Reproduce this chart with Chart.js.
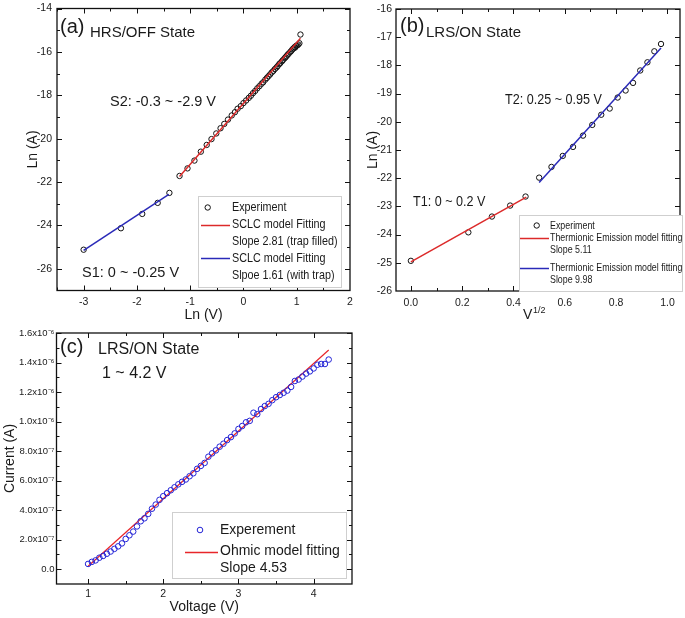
<!DOCTYPE html>
<html>
<head>
<meta charset="utf-8">
<title>HRS / LRS conduction fits</title>
<script src="https://cdn.jsdelivr.net/npm/chart.js@4.4.1/dist/chart.umd.min.js"></script>
<style>
  html, body { margin: 0; padding: 0; background: #fff; }
  #wrap { position: relative; width: 685px; height: 618px; overflow: hidden; }
  canvas { position: absolute; }
</style>
</head>
<body>
<div id="wrap">
  <canvas id="chartA" width="362" height="330" style="left:0;top:0;"></canvas>
  <canvas id="chartB" width="345" height="330" style="left:340px;top:0;"></canvas>
  <canvas id="chartC" width="362" height="300" style="left:0;top:318px;"></canvas>
</div>
<script>
// ---- (a) HRS/OFF state : Ln(I) vs Ln(V)
var lnVA = [-3.00, -2.30, -1.90, -1.61, -1.39, -1.20, -1.05, -0.92, -0.80, -0.69, -0.60, -0.51, -0.43, -0.36, -0.29, -0.22, -0.16, -0.11, -0.05, 0.00,
            0.05, 0.10, 0.14, 0.18, 0.22, 0.26, 0.30, 0.34, 0.37, 0.41, 0.44, 0.47, 0.50, 0.53, 0.56, 0.59, 0.62, 0.64, 0.67, 0.69,
            0.72, 0.74, 0.77, 0.79, 0.81, 0.83, 0.85, 0.88, 0.90, 0.92, 0.94, 0.96, 0.97, 0.99, 1.01, 1.03, 1.05, 1.07];
var lnIA = [-25.12, -24.13, -23.47, -22.96, -22.50, -21.72, -21.37, -21.01, -20.60, -20.29, -20.02, -19.76, -19.52, -19.32, -19.12, -18.93, -18.78, -18.62, -18.50, -18.36,
            -18.24, -18.12, -18.02, -17.90, -17.80, -17.68, -17.58, -17.47, -17.40, -17.28, -17.20, -17.12, -17.04, -16.95, -16.88, -16.79, -16.72, -16.66, -16.57, -16.52,
            -16.44, -16.38, -16.30, -16.25, -16.19, -16.13, -16.08, -16.00, -15.95, -15.88, -15.84, -15.78, -15.80, -15.72, -15.70, -15.66, -15.60, -15.20];
var fitFilledX = [-1.20, 1.07];
var fitFilledY = [-21.75, -15.37];
var fitTrapX = [-3.00, -1.40];
var fitTrapY = [-25.15, -22.57];
var xTicksA = [-3, -2, -1, 0, 1, 2];
var xLabelsA = ["-3", "-2", "-1", "0", "1", "2"];
var xMinorA = [-3.5, -2.5, -1.5, -0.5, 0.5, 1.5];
var yTicksA = [-26, -24, -22, -20, -18, -16, -14];
var yLabelsA = ["-26", "-24", "-22", "-20", "-18", "-16", "-14"];
var yMinorA = [-27, -25, -23, -21, -19, -17, -15];

// ---- (b) LRS/ON state : Ln(I) vs V^1/2
var sqrtVB = [0.000, 0.224, 0.316, 0.387, 0.447, 0.500, 0.548, 0.592, 0.632, 0.671, 0.707, 0.742, 0.775, 0.806, 0.837, 0.866, 0.894, 0.922, 0.949, 0.975];
var lnIB = [-24.93, -23.92, -23.36, -22.97, -22.65, -21.98, -21.60, -21.21, -20.89, -20.49, -20.11, -19.75, -19.53, -19.14, -18.89, -18.62, -18.18, -17.89, -17.50, -17.24];
var fitT1X = [0.00, 0.45];
var fitT1Y = [-24.97, -22.67];
var fitT2X = [0.50, 0.975];
var fitT2Y = [-22.15, -17.38];
var xTicksB = [0.0, 0.2, 0.4, 0.6, 0.8, 1.0];
var xLabelsB = ["0.0", "0.2", "0.4", "0.6", "0.8", "1.0"];
var xMinorB = [0.1, 0.3, 0.5, 0.7, 0.9];
var yTicksB = [-26, -25, -24, -23, -22, -21, -20, -19, -18, -17, -16];
var yLabelsB = ["-26", "-25", "-24", "-23", "-22", "-21", "-20", "-19", "-18", "-17", "-16"];

// ---- (c) LRS/ON state : I vs V (current in units of 1e-7 A)
var voltC = [1.00, 1.05, 1.10, 1.15, 1.20, 1.25, 1.30, 1.35, 1.40, 1.45, 1.50, 1.55, 1.60, 1.65, 1.70, 1.75, 1.80, 1.85, 1.90, 1.95,
             2.00, 2.05, 2.10, 2.15, 2.20, 2.25, 2.30, 2.35, 2.40, 2.45, 2.50, 2.55, 2.60, 2.65, 2.70, 2.75, 2.80, 2.85, 2.90, 2.95,
             3.00, 3.05, 3.10, 3.15, 3.20, 3.25, 3.30, 3.35, 3.40, 3.45, 3.50, 3.55, 3.60, 3.65, 3.70, 3.75, 3.80, 3.85, 3.90, 3.95,
             4.00, 4.05, 4.10, 4.15, 4.20];
var currentC = [0.36, 0.50, 0.60, 0.78, 0.90, 1.05, 1.20, 1.38, 1.55, 1.75, 2.05, 2.30, 2.55, 2.90, 3.25, 3.45, 3.75, 4.10, 4.38, 4.70,
                4.95, 5.15, 5.35, 5.55, 5.75, 5.92, 6.08, 6.30, 6.50, 6.80, 7.00, 7.20, 7.62, 7.85, 8.05, 8.30, 8.50, 8.75, 8.95, 9.20,
                9.50, 9.70, 9.95, 10.05, 10.60, 10.50, 10.85, 11.05, 11.20, 11.45, 11.65, 11.80, 11.95, 12.10, 12.35, 12.75, 12.85, 13.05, 13.25, 13.40,
                13.60, 13.85, 13.90, 13.90, 14.20];
var fitOhmX = [1.00, 4.20];
var fitOhmY = [0.20, 14.85];
var xTicksC = [1, 2, 3, 4];
var xLabelsC = ["1", "2", "3", "4"];
var xMinorC = [1.5, 2.5, 3.5];
var yTicksC = [0, 2, 4, 6, 8, 10, 12, 14, 16];
var yLabelsC = ["0.0", "2.0x10\u207B\u2077", "4.0x10\u207B\u2077", "6.0x10\u207B\u2077", "8.0x10\u207B\u2077",
                "1.0x10\u207B\u2076", "1.2x10\u207B\u2076", "1.4x10\u207B\u2076", "1.6x10\u207B\u2076"];
var yMinorC = [-1, 1, 3, 5, 7, 9, 11, 13, 15];

var RED = "#dc2a2a";
var BLUE = "#2a2ab8";
var INK = "#1a1a1a";
var SANS = '"Liberation Sans", Arial, sans-serif';

function zip(xs, ys) {
  var out = [];
  for (var i = 0; i < xs.length; i++) out.push({ x: xs[i], y: ys[i] });
  return out;
}

function pointSet(xs, ys, color, r) {
  return { data: zip(xs, ys), showLine: false, pointStyle: "circle", pointRadius: r, pointBorderWidth: 1,
           borderColor: color, pointBorderColor: color, backgroundColor: "rgba(0,0,0,0)", pointBackgroundColor: "rgba(0,0,0,0)" };
}

function lineSet(xs, ys, color, w) {
  return { data: zip(xs, ys), showLine: true, pointRadius: 0, borderColor: color, borderWidth: w, fill: false };
}

function axis(o) {
  return {
    type: "linear", min: o.min, max: o.max,
    grid: { display: false, drawTicks: false },
    border: { display: false },
    ticks: {
      padding: o.pad, autoSkip: false, maxRotation: 0, color: INK,
      font: { family: SANS, size: o.fontSize || 10.5 },
      callback: function (v, i) { return o.labels[i]; }
    },
    afterBuildTicks: function (s) {
      s.ticks = o.ticks.map(function (v) { return { value: v }; });
    },
    afterFit: function (s) {
      if (o.width !== undefined) s.width = o.width;
      if (o.height !== undefined) s.height = o.height;
      s.paddingLeft = 0; s.paddingRight = 0; s.paddingTop = 0; s.paddingBottom = 0;
    },
    title: { display: !!o.title, text: o.title || "", color: INK,
             font: { family: SANS, size: o.titleSize || 14 }, padding: o.titlePad || 0 }
  };
}

// draw text squeezed horizontally (the original uses a narrow face)
function squeezeText(ctx, text, x, y, sx) {
  ctx.save();
  ctx.translate(x, y);
  ctx.scale(sx || 1, 1);
  ctx.fillText(text, 0, 0);
  ctx.restore();
}

// box + inward ticks on all four sides (Origin style)
function framePlugin(xMinor, yMinor) {
  return {
    id: "frame",
    afterDatasetsDraw: function (chart) {
      var ctx = chart.ctx, a = chart.chartArea;
      var xs = chart.scales.x, ys = chart.scales.y;
      ctx.save();
      ctx.strokeStyle = "#111";
      ctx.lineWidth = 1.3;
      ctx.strokeRect(a.left, a.top, a.right - a.left, a.bottom - a.top);
      ctx.lineWidth = 1;
      function seg(x1, y1, x2, y2) { ctx.beginPath(); ctx.moveTo(x1, y1); ctx.lineTo(x2, y2); ctx.stroke(); }
      function tx(v, len) {
        var p = Math.round(xs.getPixelForValue(v)) + 0.5;
        if (p < a.left || p > a.right) return;
        seg(p, a.bottom, p, a.bottom - len); seg(p, a.top, p, a.top + len);
      }
      function ty(v, len) {
        var p = Math.round(ys.getPixelForValue(v)) + 0.5;
        if (p < a.top || p > a.bottom) return;
        seg(a.left, p, a.left + len, p); seg(a.right, p, a.right - len, p);
      }
      xs.ticks.forEach(function (t) { tx(t.value, 5); });
      ys.ticks.forEach(function (t) { ty(t.value, 5); });
      xMinor.forEach(function (v) { tx(v, 3); });
      yMinor.forEach(function (v) { ty(v, 3); });
      ctx.restore();
    }
  };
}

// free text labels inside the panels
function notesPlugin(items) {
  return {
    id: "notes",
    afterDraw: function (chart) {
      var ctx = chart.ctx;
      ctx.save();
      ctx.textBaseline = "alphabetic";
      ctx.textAlign = "left";
      ctx.fillStyle = INK;
      items.forEach(function (n) {
        ctx.font = n.font;
        squeezeText(ctx, n.text, n.x, n.y, n.sx);
      });
      ctx.restore();
    }
  };
}

// boxed legend with multi-line entries
function legendPlugin(box) {
  return {
    id: "boxLegend",
    afterDraw: function (chart) {
      var ctx = chart.ctx;
      ctx.save();
      ctx.fillStyle = "#fff";
      ctx.fillRect(box.x, box.y, box.w, box.h);
      ctx.strokeStyle = "#cfcfcf";
      ctx.lineWidth = 1;
      ctx.strokeRect(box.x + 0.5, box.y + 0.5, box.w, box.h);
      ctx.font = box.font;
      ctx.textBaseline = "middle";
      box.rows.forEach(function (r) {
        if (r.ds !== undefined) {
          var ds = chart.data.datasets[r.ds];
          ctx.strokeStyle = ds.borderColor;
          if (ds.showLine === false) {
            ctx.lineWidth = 1;
            ctx.beginPath();
            ctx.arc(box.markX, r.y, ds.pointRadius, 0, Math.PI * 2);
            ctx.stroke();
          } else {
            ctx.lineWidth = Math.max(ds.borderWidth, 1.5);
            ctx.beginPath();
            ctx.moveTo(box.lineX1, Math.round(r.y) + 0.5);
            ctx.lineTo(box.lineX2, Math.round(r.y) + 0.5);
            ctx.stroke();
          }
        }
        ctx.fillStyle = INK;
        squeezeText(ctx, r.text, box.textX, r.y, box.sx);
      });
      ctx.restore();
    }
  };
}

function baseOptions(pad, scales) {
  return {
    responsive: false,
    animation: false,
    events: [],
    layout: { padding: pad },
    plugins: { legend: { display: false }, tooltip: { enabled: false } },
    scales: scales
  };
}

// ---------------- (a)
new Chart(document.getElementById("chartA"), {
  type: "scatter",
  data: {
    datasets: [
      lineSet(fitFilledX, fitFilledY, RED, 1.5),
      lineSet(fitTrapX, fitTrapY, BLUE, 1.5),
      pointSet(lnVA, lnIA, "#111", 2.7)
    ]
  },
  options: baseOptions({ left: 0, top: 8.5, right: 12, bottom: 0 }, {
    x: axis({ min: -3.5, max: 2, ticks: xTicksA, labels: xLabelsA, pad: 5.5, height: 39.5,
              title: "Ln (V)", titlePad: { top: 0, bottom: 6.6 } }),
    y: axis({ min: -27, max: -14, ticks: yTicksA, labels: yLabelsA, pad: 5, width: 57,
              title: "Ln (A)", titlePad: { top: 24.6, bottom: 0 } })
  }),
  plugins: [
    framePlugin(xMinorA, yMinorA),
    notesPlugin([
      { text: "(a)", x: 60, y: 33, font: "20px " + SANS },
      { text: "HRS/OFF State", x: 90, y: 36.5, font: "15px " + SANS },
      { text: "S2: -0.3 ~ -2.9 V", x: 110, y: 106, font: "14.5px " + SANS },
      { text: "S1: 0 ~ -0.25 V", x: 82, y: 276.5, font: "14.5px " + SANS }
    ]),
    legendPlugin({
      x: 198, y: 196, w: 143, h: 91, font: "13px " + SANS, sx: 0.83,
      markX: 207.7, lineX1: 201, lineX2: 230, textX: 232,
      rows: [
        { ds: 2, text: "Experiment", y: 207.5 },
        { ds: 0, text: "SCLC model Fitting", y: 224.5 },
        { text: "Slope 2.81 (trap filled)", y: 241 },
        { ds: 1, text: "SCLC model Fitting", y: 258 },
        { text: "Slpoe 1.61 (with trap)", y: 275 }
      ]
    })
  ]
});

// ---------------- (b)
new Chart(document.getElementById("chartB"), {
  type: "scatter",
  data: {
    datasets: [
      lineSet(fitT1X, fitT1Y, RED, 1.5),
      lineSet(fitT2X, fitT2Y, BLUE, 1.5),
      pointSet(sqrtVB, lnIB, "#111", 2.7)
    ]
  },
  options: baseOptions({ left: 0, top: 9, right: 5, bottom: 0 }, {
    x: axis({ min: -0.058, max: 1.049, ticks: xTicksB, labels: xLabelsB, pad: 5.5, height: 39 }),
    y: axis({ min: -26, max: -16, ticks: yTicksB, labels: yLabelsB, pad: 4, width: 56,
              title: "Ln (A)", titlePad: { top: 24.6, bottom: 0 } })
  }),
  plugins: [
    framePlugin(xMinorB, []),
    notesPlugin([
      { text: "(b)", x: 60, y: 32, font: "20px " + SANS },
      { text: "LRS/ON State", x: 86, y: 36.5, font: "15px " + SANS },
      { text: "T2: 0.25 ~ 0.95 V", x: 165, y: 104, font: "15px " + SANS, sx: 0.84 },
      { text: "T1: 0 ~ 0.2 V", x: 73, y: 206, font: "15px " + SANS, sx: 0.84 },
      { text: "V", x: 183, y: 319, font: "14px " + SANS },
      { text: "1/2", x: 193, y: 313, font: "9px " + SANS }
    ]),
    legendPlugin({
      x: 179, y: 215, w: 163, h: 76, font: "11.5px " + SANS, sx: 0.77,
      markX: 196.7, lineX1: 180, lineX2: 209, textX: 210,
      rows: [
        { ds: 2, text: "Experiment", y: 225.5 },
        { ds: 0, text: "Thermionic Emission model fitting", y: 237.5 },
        { text: "Slope 5.11", y: 249.5 },
        { ds: 1, text: "Thermionic Emission model fitting", y: 268 },
        { text: "Slope 9.98", y: 280 }
      ]
    })
  ]
});

// ---------------- (c)
new Chart(document.getElementById("chartC"), {
  type: "scatter",
  data: {
    datasets: [
      pointSet(voltC, currentC, "#2424d6", 2.8),
      lineSet(fitOhmX, fitOhmY, "#e8262a", 1.2)
    ]
  },
  options: baseOptions({ left: 0, top: 15, right: 10, bottom: 0 }, {
    x: axis({ min: 0.58, max: 4.51, ticks: xTicksC, labels: xLabelsC, pad: 3.5, height: 34, fontSize: 10.5,
              title: "Voltage (V)", titlePad: { top: 0, bottom: 2.6 } }),
    y: axis({ min: -1, max: 16, ticks: yTicksC, labels: yLabelsC, pad: 2, width: 56.5, fontSize: 9.5,
              title: "Current (A)", titlePad: { top: 1.6, bottom: 0 } })
  }),
  plugins: [
    framePlugin(xMinorC, yMinorC),
    notesPlugin([
      { text: "(c)", x: 60, y: 35, font: "20px " + SANS },
      { text: "LRS/ON State", x: 98, y: 36, font: "16px " + SANS },
      { text: "1 ~ 4.2 V", x: 102, y: 59.5, font: "16px " + SANS }
    ]),
    legendPlugin({
      x: 172, y: 194, w: 174, h: 66, font: "14px " + SANS, sx: 1,
      markX: 200, lineX1: 185, lineX2: 218, textX: 220,
      rows: [
        { ds: 0, text: "Experement", y: 212 },
        { ds: 1, text: "Ohmic model fitting", y: 233.5 },
        { text: "Slope 4.53", y: 250 }
      ]
    })
  ]
});
</script>
</body>
</html>
